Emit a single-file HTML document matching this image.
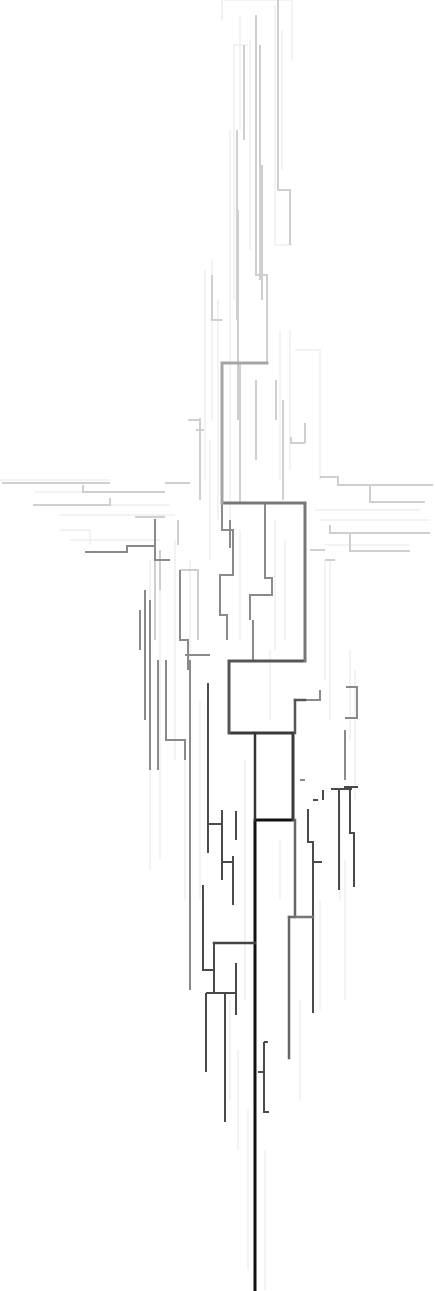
<!DOCTYPE html>
<html><head><meta charset="utf-8"><style>
html,body{margin:0;padding:0;background:#fff;}
svg{display:block;}
</style></head><body>
<svg id="tree" width="435" height="1291" viewBox="0 0 435 1291" xmlns="http://www.w3.org/2000/svg"></svg>
<script>
// branch paths: [points...]
const faint = [
 [[222,20],[222,0],[292,0],[292,60]],
 [[234,45],[234,300]],[[240,15],[240,130]],[[250,40],[250,250]],
 [[233,45],[248,45]],[[275,5],[275,245],[292,245]],[[282,30],[282,170]],
 [[230,130],[230,520]],[[205,270],[205,480]],[[212,260],[212,420]],
 [[218,300],[218,520]],[[280,330],[280,480]],[[290,330],[290,470]],
 [[295,350],[320,350],[320,480]],[[210,440],[210,560]],
 [[0,480],[110,480]],[[35,492],[85,492]],[[35,505],[170,505]],[[60,515],[175,515]],
 [[60,530],[90,530],[90,545]],[[70,540],[160,540]],[[315,510],[420,510]],
 [[320,520],[430,520]],[[325,545],[410,545]],[[325,560],[325,680]],[[330,560],[330,720]],
 [[150,560],[150,870]],[[160,560],[160,860]],[[190,560],[190,740]],[[175,540],[175,760]],
 [[200,700],[200,900]],[[185,760],[185,900]],[[350,650],[350,740]],[[355,670],[355,800]],
 [[240,530],[240,640]],[[275,520],[275,650]],[[285,540],[285,640]],
 [[245,760],[245,1000]],[[270,650],[270,720]],[[280,840],[280,900]],
 [[300,1000],[300,1100]],[[230,1000],[230,1100]],[[238,1050],[238,1150]],
 [[320,900],[320,1010]],[[340,800],[340,900]],[[345,860],[345,1000]],
 [[265,1150],[265,1290]],[[248,1110],[248,1270]]
];
const light = [
 [[256,15],[256,275],[267,275],[267,363]],
 [[278,0],[278,190],[290,190],[290,245]],
 [[237,130],[237,320]],[[244,45],[244,140]],[[238,210],[238,420]],
 [[260,45],[260,280]],[[262,165],[262,300]],
 [[212,275],[212,320],[222,320]],[[200,418],[200,500]],[[196,430],[204,430]],
 [[256,380],[256,460]],[[276,380],[276,420]],[[283,400],[283,500]],
 [[188,420],[200,420]],[[240,363],[240,503]],
 [[2,483],[110,483]],[[83,485],[83,492],[165,492]],[[165,483],[190,483]],
 [[33,505],[110,505],[110,498]],[[135,517],[165,517]],
 [[291,437],[291,443],[305,443]],[[305,423],[305,443]],
 [[320,477],[338,477],[338,485],[433,485]],[[370,485],[370,502],[425,502]],
 [[330,525],[330,533],[430,533]],[[350,533],[350,551],[410,551]],
 [[325,550],[310,550]],[[325,560],[335,560]],
 [[155,519],[155,640]],[[178,520],[178,545]],[[160,550],[160,590]],
 [[180,570],[198,570],[198,640]]
];
const mid = [
 [[85,552],[127,552],[127,546],[155,546]],[[155,519],[155,560],[170,560]],
 [[145,590],[145,720]],[[140,610],[140,650]],[[150,600],[150,770]],
 [[180,570],[180,640],[188,640],[188,670]],[[230,548],[230,520]],
 [[265,503],[265,578],[272,578],[272,595],[250,595],[250,620]],
 [[253,620],[253,660]],[[222,503],[222,530],[233,530],[233,575],[220,575],[220,615],[227,615],[227,640]],
 [[185,655],[210,655]],[[166,660],[166,740],[185,740],[185,760]],
 [[158,660],[158,770]],[[190,660],[190,990]],
 [[346,687],[357,687],[357,718],[345,718]],[[305,700],[320,700],[320,690]],
 [[345,730],[345,780]],
 [[300,780],[305,780]]
];
const dark = [
 [[208,683],[208,853]],[[208,824],[222,824],[222,810]],[[222,810],[222,880]],
 [[236,811],[236,840]],[[233,856],[233,905]],[[222,862],[233,862]],
 [[206,993],[236,993]],[[236,963],[236,1015]],[[225,993],[225,1122]],[[206,993],[206,1072]],
 [[203,885],[203,970],[213,970]],[[214,943],[214,993]],
 [[308,809],[308,842],[313,842],[313,1013]],[[313,862],[322,862]],
 [[323,790],[323,800]],[[313,800],[318,800]],
 [[331,789],[352,789]],[[339,790],[339,890]],[[350,787],[350,833],[354,833],[354,887]],
 [[344,787],[358,787]],
 [[258,1072],[264,1072]],[[264,1042],[268,1042]],[[264,1042],[264,1112],[269,1112]]
];
const spine = [
 [[255,1290],[255,820],[293,820],[293,733],[229,733],[229,661],[305,661],[305,503],[222,503],[222,363],[267,363]],
 [[255,820],[255,733]],
 [[214,943],[255,943]],
 [[295,820],[295,917],[289,917],[289,1058]],[[295,917],[313,917]],
 [[295,733],[295,700],[305,700]]
];
const widths = [1.5, 2, 2, 2, 3];
const grays = ['#efefef', '#cfcfcf', '#8a8a8a', '#4a4a4a', '#222'];
const svg = document.getElementById('tree');
const NS = 'http://www.w3.org/2000/svg';
[faint, light, mid, dark].forEach((group, gi) => {
  group.forEach(pts => {
    const p = document.createElementNS(NS, 'polyline');
    
    
    p.setAttribute('points', pts.map(q => q.join(',')).join(' '));
    p.setAttribute('fill', 'none');
    p.setAttribute('stroke', grays[gi]);
    p.setAttribute('stroke-width', widths[gi]);
    svg.appendChild(p);
  });
});
const spineColors = ['#111','#333','#444','#666','#777','#555'];
spine.forEach((pts, i) => {
  for (let k = 0; k < pts.length - 1; k++) {
    const l = document.createElementNS(NS, 'line');
    
    
    l.setAttribute('x1', pts[k][0]); l.setAttribute('y1', pts[k][1]);
    l.setAttribute('x2', pts[k+1][0]); l.setAttribute('y2', pts[k+1][1]);
    let c = spineColors[i];
    if (i === 0) {
      const y = Math.min(pts[k][1], pts[k+1][1]);
      c = y > 810 ? '#111' : y > 720 ? '#3a3a3a' : y > 650 ? '#555' : y > 490 ? '#777' : '#a5a5a5';
    }
    l.setAttribute('stroke', c);
    l.setAttribute('stroke-width', i === 0 ? 3 : 2.5);
    l.setAttribute('stroke-linecap', 'square');
    svg.appendChild(l);
  }
});
</script>
</body></html>
